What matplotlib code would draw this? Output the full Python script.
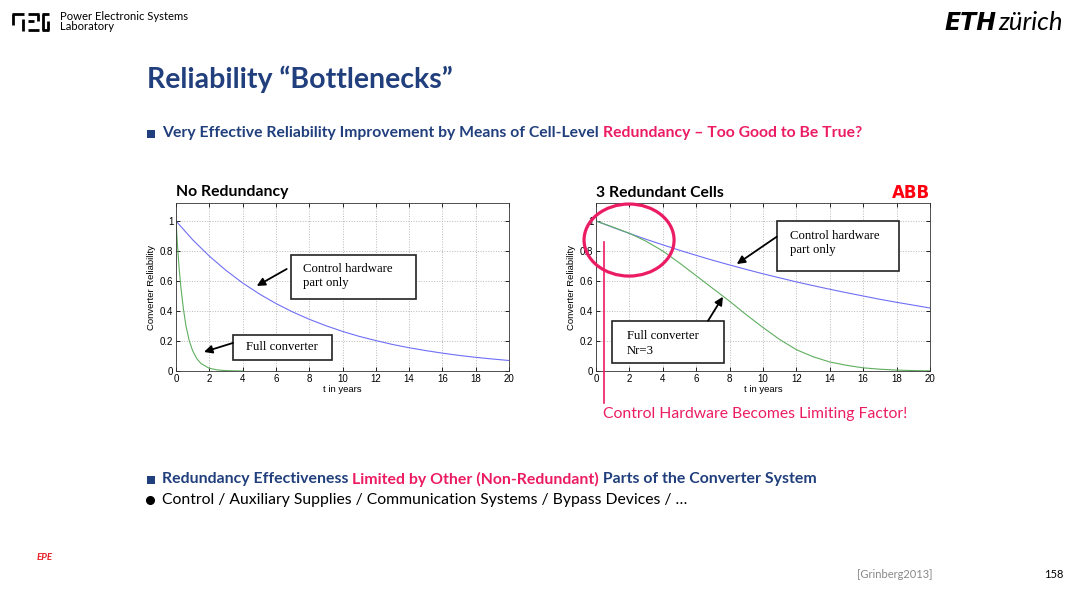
import matplotlib
matplotlib.use("Agg")
import matplotlib.pyplot as plt
from matplotlib.patches import Rectangle, Ellipse
from matplotlib.lines import Line2D

plt.rcParams['font.family'] = ['Lato', 'DejaVu Sans']

# ---------- data ----------
years = [0, 1, 2, 3, 4, 5, 6, 7, 8, 9, 10, 11, 12, 13, 14, 15, 16, 17, 18, 19, 20]

# No redundancy
ctrl_nored = [1.0, 0.875, 0.766, 0.671, 0.587, 0.514, 0.45, 0.394, 0.345, 0.302, 0.264,
              0.231, 0.203, 0.177, 0.155, 0.136, 0.119, 0.104, 0.091, 0.08, 0.07]
full_t = [0, 0.1, 0.2, 0.3, 0.45, 0.6, 0.8, 1.0, 1.25, 1.5, 2.0, 2.5, 3.0, 3.5, 4.0]
full_nored = [1.0, 0.82, 0.67, 0.55, 0.41, 0.30, 0.20, 0.135, 0.082, 0.05, 0.018,
              0.007, 0.0025, 0.001, 0.0]

# 3 redundant cells
ctrl_red = [1.0, 0.958, 0.917, 0.878, 0.841, 0.805, 0.771, 0.738, 0.707, 0.677, 0.648,
            0.621, 0.594, 0.569, 0.545, 0.522, 0.5, 0.478, 0.458, 0.439, 0.42]
full_red = [1.0, 0.96, 0.918, 0.865, 0.80, 0.72, 0.635, 0.55, 0.465, 0.375, 0.29,
            0.21, 0.142, 0.095, 0.06, 0.038, 0.021, 0.012, 0.006, 0.003, 0.001]

yticks = [0, 0.2, 0.4, 0.6, 0.8, 1]
ytick_labels = ["0", "0.2", "0.4", "0.6", "0.8", "1"]
xticks = [0, 2, 4, 6, 8, 10, 12, 14, 16, 18, 20]

BLUE_LINE = "#6f6ff5"
GREEN_LINE = "#5fae5f"
NAVY = "#203f7c"
PINK = "#ec1c64"
BODY = 11.3

W, H = 1080, 590


def fx(px):
    return px / W


def fy(py):
    return 1 - py / H


def rich_text(fig, x, y, parts, **kw):
    # draw text pieces one after another, each in its own colour
    r = fig.canvas.get_renderer()
    for s, c in parts:
        t = fig.text(x, y, s, color=c, **kw)
        bb = t.get_window_extent(renderer=r)
        x += bb.width / fig.bbox.width
    return x


def setup_axes(ax):
    ax.set_xlim(0, 20)
    ax.set_ylim(0, 1.12)
    ax.set_xticks(xticks)
    ax.set_yticks(yticks)
    ax.set_yticklabels(ytick_labels)
    ax.grid(True, color="#b8b8b8", linestyle=":", linewidth=0.7)
    ax.tick_params(direction="in", top=True, right=True, labelsize=7,
                   length=3, width=0.6, pad=2)
    for lab in ax.get_xticklabels() + ax.get_yticklabels():
        lab.set_family(["Liberation Sans", "DejaVu Sans"])
    for sp in ax.spines.values():
        sp.set_linewidth(0.6)
        sp.set_color("#333333")
    ax.set_xlabel("t in years", fontsize=6.8, family=["Liberation Sans"], labelpad=1)
    ax.set_ylabel("Converter Reliability", fontsize=6.8, family=["Liberation Sans"], labelpad=3)


def note_box(ax, x0, y0, x1, y1, tx, ty, text):
    ax.add_patch(Rectangle((x0, y0), x1 - x0, y1 - y0, facecolor="white",
                           edgecolor="#222222", linewidth=1.2, clip_on=False, zorder=5))
    ax.text(tx, ty, text, fontsize=9.2, family=["Liberation Serif"], va="center",
            ha="left", linespacing=1.3, zorder=6)


def arrow(ax, tail, tip):
    ax.annotate("", xy=tip, xytext=tail,
                arrowprops=dict(arrowstyle="-|>", color="black", lw=1.3,
                                mutation_scale=12, shrinkA=0, shrinkB=0), zorder=6)


fig = plt.figure(figsize=(10.8, 5.9), dpi=100)
fig.patch.set_facecolor("white")

# ---------- left chart ----------
ax1 = fig.add_axes([fx(176), fy(371), fx(509) - fx(176), fy(203) - fy(371)])
setup_axes(ax1)
ax1.plot(years, ctrl_nored, color=BLUE_LINE, lw=0.8)
ax1.plot(full_t, full_nored, color=GREEN_LINE, lw=0.8)
note_box(ax1, 6.91, 0.48, 14.41, 0.773, 7.63, 0.633, "Control hardware\npart only")
arrow(ax1, (6.65, 0.68), (4.85, 0.567))
note_box(ax1, 3.42, 0.073, 9.37, 0.24, 4.2, 0.157, "Full converter")
arrow(ax1, (3.42, 0.187), (1.68, 0.127))

# ---------- right chart ----------
ax2 = fig.add_axes([fx(596), fy(371), fx(930) - fx(596), fy(203) - fy(371)])
setup_axes(ax2)
ax2.plot(years, ctrl_red, color=BLUE_LINE, lw=0.8)
ax2.plot(years, full_red, color=GREEN_LINE, lw=0.8)
note_box(ax2, 10.82, 0.669, 18.14, 1.002, 11.62, 0.853, "Control hardware\npart only")
arrow(ax2, (10.82, 0.895), (8.43, 0.713))
note_box(ax2, 0.96, 0.055, 7.66, 0.335, 1.84, 0.182, "Full converter\nNr=3")
arrow(ax2, (6.71, 0.335), (7.6, 0.495))
ax2.add_patch(Ellipse((1.98, 0.873), 5.39, 0.48, fill=False, edgecolor=PINK,
                      linewidth=2.3, clip_on=False, zorder=7))
fig.add_artist(Line2D([fx(604), fx(604)], [fy(242), fy(403)], color=PINK, lw=1.2))
fig.text(fx(603), fy(414), "Control Hardware Becomes Limiting Factor!", color=PINK,
         fontsize=BODY, va="center", ha="left")

# chart captions
fig.text(fx(176), fy(192), "No Redundancy", fontsize=BODY, fontweight="bold",
         va="center", ha="left")
fig.text(fx(596), fy(193), "3 Redundant Cells", fontsize=BODY, fontweight="bold",
         va="center", ha="left")
fig.text(fx(930), fy(193), "ABB", fontsize=12, fontweight="bold", color="#ff000f",
         va="center", ha="right", family=["DejaVu Sans"])

# ---------- slide text ----------
fig.text(fx(147), fy(88), "Reliability \u201cBottlenecks\u201d", fontsize=20.5,
         fontweight="bold", color=NAVY, va="baseline", ha="left")

# square / round bullets drawn as small markers
for by, col in [(134, NAVY), (480, NAVY)]:
    fig.add_artist(Rectangle((fx(147), fy(by + 3.5)), fx(7.5), 7.5 / H,
                             facecolor=col, edgecolor="none"))
fig.add_artist(Line2D([fx(150)], [fy(500)], marker="o", markersize=5.5,
                      color="black", linestyle="none"))

rich_text(fig, fx(162), fy(133),
          [("Very Effective Reliability Improvement by Means of Cell-Level ", NAVY),
           ("Redundancy \u2013 Too Good to Be True?", PINK)],
          fontsize=BODY, fontweight="bold", va="center", ha="left")
rich_text(fig, fx(162), fy(479),
          [("Redundancy Effectiveness ", NAVY),
           ("Limited by Other (Non-Redundant)", PINK),
           (" Parts of the Converter System", NAVY)],
          fontsize=BODY + 0.1, fontweight="bold", va="center", ha="left")
fig.text(fx(162), fy(500),
         "Control / Auxiliary Supplies / Communication Systems / Bypass Devices / \u2026",
         fontsize=BODY, color="black", va="center", ha="left")

# header: PES logo built from bars
for (xa, ya), (xb, yb) in [((12, 14), (24, 14)), ((13, 14), (13, 25)), ((23, 19), (23, 31)),
                           ((28, 14), (39, 14)), ((28, 21), (34, 21)), ((38, 14), (38, 21)),
                           ((28, 30), (39, 30)),
                           ((42, 14), (49, 14)), ((43, 14), (43, 30)), ((42, 30), (49, 30)),
                           ((48, 21), (48, 30))]:
    fig.add_artist(Line2D([fx(xa), fx(xb)], [fy(ya), fy(yb)], color="black", lw=2.0,
                          solid_capstyle="butt"))
fig.text(fx(60), fy(16), "Power Electronic Systems", fontsize=8.1, va="center", ha="left")
fig.text(fx(60), fy(27), "Laboratory", fontsize=8.1, va="center", ha="left")
fig.text(fx(996), fy(30), "ETH", fontsize=17, fontweight="heavy",
         style="italic", va="baseline", ha="right", family=["DejaVu Sans"])
fig.text(fx(1063), fy(30), "z\u00fcrich", fontsize=18.5, style="italic", va="baseline",
         ha="right", color="black", fontweight="normal")

# footer
fig.text(fx(45), fy(557), "EPE", fontsize=7, color="#e8202a", fontweight="bold",
         style="italic", va="center", ha="center")
fig.text(fx(932), fy(575), "[Grinberg2013]", fontsize=8, color="#888888",
         va="center", ha="right")
fig.text(fx(1063), fy(575), "158", fontsize=8, color="black", va="center", ha="right")

fig.savefig("out.png", dpi=100)
